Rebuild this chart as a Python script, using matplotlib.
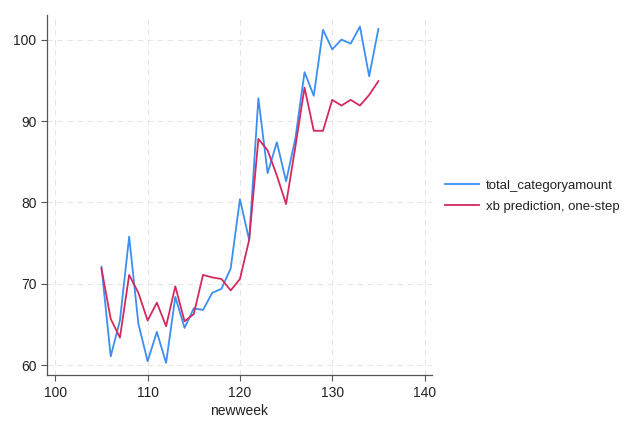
import numpy as np
import matplotlib
matplotlib.use("Agg")
from matplotlib import pyplot as plt

plt.rcParams['font.family'] = ['Liberation Sans', 'DejaVu Sans']

weeks = list(range(105, 136))
total_categoryamount = [72.1, 61.1, 65.5, 75.8, 65.1, 60.5, 64.1, 60.3, 68.4, 64.6,
                        67.0, 66.8, 68.9, 69.4, 71.9, 80.4, 75.4, 92.8, 83.6, 87.4,
                        82.6, 87.8, 96.0, 93.1, 101.2, 98.8, 100.0, 99.5, 101.6, 95.5,
                        101.3]
xb_prediction = [71.9, 65.7, 63.4, 71.1, 68.9, 65.5, 67.7, 64.8, 69.7, 65.4,
                 66.3, 71.1, 70.8, 70.6, 69.2, 70.6, 75.4, 87.8, 86.4, 83.3,
                 79.8, 86.8, 94.1, 88.8, 88.8, 92.6, 91.9, 92.6, 91.9, 93.2,
                 94.9]
xticks = [100, 110, 120, 130, 140]
yticks = [60, 70, 80, 90, 100]

fig = plt.figure(figsize=(6.31, 4.21), dpi=100)
ax = fig.add_axes([0.0745, 0.109, 0.61, 0.855])

ax.plot(weeks, total_categoryamount, color='#3b8ff0', lw=1.3, label='total_categoryamount')
ax.plot(weeks, xb_prediction, color='#d42a5e', lw=1.3, label='xb prediction, one-step')

ax.set_xlim(99.1, 140.8)
ax.set_ylim(58.8, 103)
ax.set_xticks(xticks)
ax.set_yticks(yticks)
ax.grid(True, color='#e6e6e6', linestyle=(0, (5, 4)), lw=0.8)
ax.set_axisbelow(True)
for s in ['top', 'right']:
    ax.spines[s].set_visible(False)
for s in ['left', 'bottom']:
    ax.spines[s].set_color('#555555')
    ax.spines[s].set_linewidth(0.9)
ax.tick_params(colors='#555555', labelsize=10, length=4, width=0.8, labelcolor='#222222')
ax.set_xlabel('newweek', fontsize=10, labelpad=3, color='#222222')

leg = fig.legend(loc='center left', bbox_to_anchor=(0.705, 0.534), frameon=False,
                 fontsize=9.5, handlelength=2.6, handletextpad=0.5, labelspacing=0.7,
                 borderpad=0, borderaxespad=0)
for t in leg.get_texts():
    t.set_color('#222222')

fig.savefig('out.png', dpi=100)
